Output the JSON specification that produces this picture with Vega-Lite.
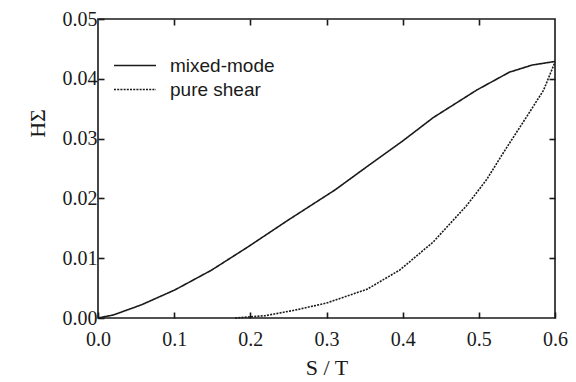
{
  "$schema": "https://vega.github.io/schema/vega-lite/v6.json",
  "width": 457,
  "height": 299,
  "autosize": {"type": "none"},
  "padding": {"left": 98, "top": 19, "right": 21, "bottom": 64},
  "background": "white",
  "config": {
    "view": {"stroke": "#1a1a1a", "strokeWidth": 1.6},
    "axis": {"grid": false, "domain": false, "ticks": true, "zindex": 1, "offset": -6, "tickSize": 6, "tickColor": "#1a1a1a", "tickWidth": 1.6, "labelColor": "#1a1a1a", "titleColor": "#1a1a1a", "labelFont": "Liberation Serif", "titleFont": "Liberation Serif", "labelFontSize": 20, "titleFontWeight": "normal"}
  },
  "data": {
    "values": [
      {"s": 0.0, "h": 0.0, "series": "mixed-mode"},
      {"s": 0.02, "h": 0.0005, "series": "mixed-mode"},
      {"s": 0.057, "h": 0.0022, "series": "mixed-mode"},
      {"s": 0.101, "h": 0.0047, "series": "mixed-mode"},
      {"s": 0.149, "h": 0.008, "series": "mixed-mode"},
      {"s": 0.197, "h": 0.0119, "series": "mixed-mode"},
      {"s": 0.25, "h": 0.0164, "series": "mixed-mode"},
      {"s": 0.311, "h": 0.0214, "series": "mixed-mode"},
      {"s": 0.353, "h": 0.0253, "series": "mixed-mode"},
      {"s": 0.4, "h": 0.0296, "series": "mixed-mode"},
      {"s": 0.44, "h": 0.0335, "series": "mixed-mode"},
      {"s": 0.497, "h": 0.0381, "series": "mixed-mode"},
      {"s": 0.54, "h": 0.0411, "series": "mixed-mode"},
      {"s": 0.57, "h": 0.0423, "series": "mixed-mode"},
      {"s": 0.6, "h": 0.0429, "series": "mixed-mode"},
      {"s": 0.18, "h": 0.0, "series": "pure shear"},
      {"s": 0.22, "h": 0.0004, "series": "pure shear"},
      {"s": 0.258, "h": 0.0013, "series": "pure shear"},
      {"s": 0.3, "h": 0.0025, "series": "pure shear"},
      {"s": 0.353, "h": 0.0048, "series": "pure shear"},
      {"s": 0.396, "h": 0.008, "series": "pure shear"},
      {"s": 0.44, "h": 0.0127, "series": "pure shear"},
      {"s": 0.484, "h": 0.0188, "series": "pure shear"},
      {"s": 0.51, "h": 0.0231, "series": "pure shear"},
      {"s": 0.535, "h": 0.0282, "series": "pure shear"},
      {"s": 0.563, "h": 0.0337, "series": "pure shear"},
      {"s": 0.585, "h": 0.0381, "series": "pure shear"},
      {"s": 0.6, "h": 0.0428, "series": "pure shear"}
    ]
  },
  "layer": [
    {
      "mark": {"type": "line", "color": "#1a1a1a", "strokeWidth": 1.6},
      "encoding": {
        "x": {"field": "s", "type": "quantitative", "scale": {"domain": [0, 0.6], "nice": false, "zero": false},
              "axis": {"orient": "bottom", "values": [0, 0.1, 0.2, 0.3, 0.4, 0.5, 0.6], "format": ".1f", "labelPadding": 11, "title": "S / T", "titleFontSize": 22, "titlePadding": 8, "labelFlush": false}},
        "y": {"field": "h", "type": "quantitative", "scale": {"domain": [0, 0.05], "nice": false, "zero": false},
              "axis": {"orient": "left", "values": [0, 0.01, 0.02, 0.03, 0.04, 0.05], "format": ".2f", "labelPadding": 1, "title": "HΣ", "titleFontSize": 22, "titleX": -67, "titleY": 104, "titleBaseline": "middle", "titleAlign": "center", "labelFlush": false}},
        "strokeDash": {"field": "series", "type": "nominal",
          "scale": {"domain": ["mixed-mode", "pure shear"], "range": [[1, 0], [2, 1.2]]},
          "legend": {"orient": "none", "legendX": 25.5, "legendY": 35, "title": null, "symbolType": "M-2,0H2", "symbolSize": 441, "symbolStrokeColor": "#1a1a1a", "symbolStrokeWidth": 1.6, "labelFont": "Liberation Sans", "labelFontSize": 19, "labelColor": "#1a1a1a", "labelOffset": 23.5, "rowPadding": 2}}
      }
    },
    {
      "mark": {"type": "line", "opacity": 0},
      "encoding": {
        "x": {"field": "s", "type": "quantitative", "axis": {"orient": "top", "values": [0.1, 0.2, 0.3, 0.4, 0.5], "labels": false, "title": null}},
        "y": {"field": "h", "type": "quantitative", "axis": {"orient": "right", "values": [0.01, 0.02, 0.03, 0.04], "labels": false, "title": null}},
        "detail": {"field": "series"}
      }
    }
  ],
  "resolve": {"axis": {"x": "independent", "y": "independent"}}
}
